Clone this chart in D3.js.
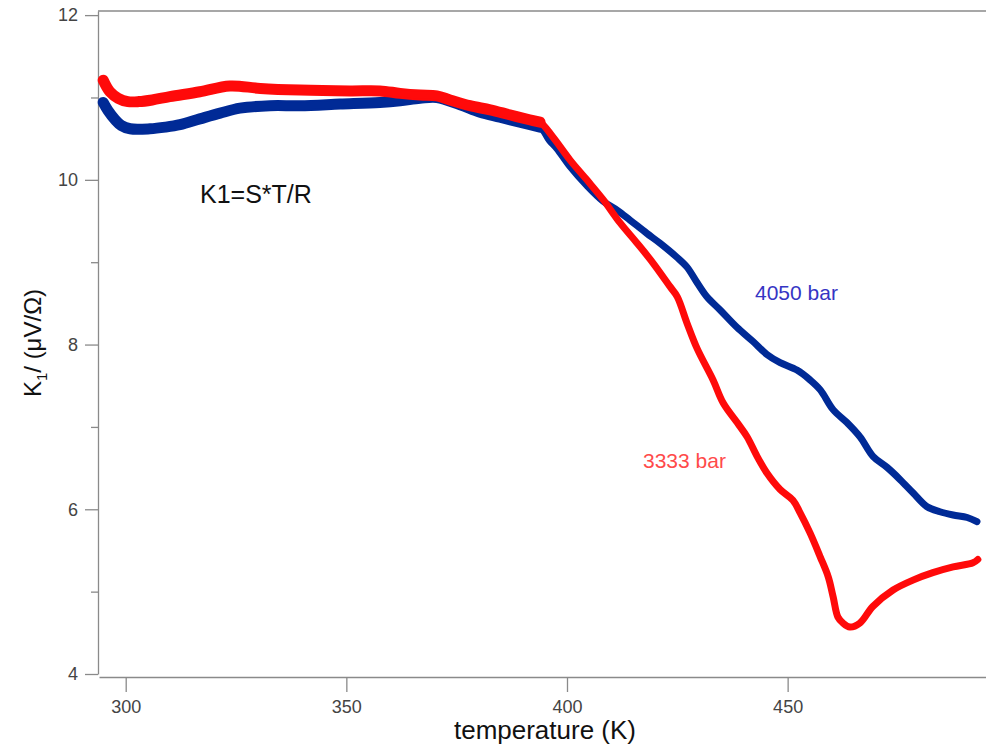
<!DOCTYPE html>
<html>
<head>
<meta charset="utf-8">
<script src="https://cdn.jsdelivr.net/npm/d3@7"></script>
<style>
  body { margin: 0; background: #fff; }
  text { font-family: "Liberation Sans", Arial, sans-serif; }
  .axis path, .axis line { stroke: #8a8a8a; stroke-width: 1.3; }
  .axis text { fill: #444; font-size: 18px; font-family: "Liberation Sans", Arial, sans-serif; }
</style>
</head>
<body>
<svg id="chart" width="986" height="745"></svg>
<script>
var width = 986, height = 745

// 4050 bar (blue)
var tempBlue = [294.9, 296, 297.6, 299, 301, 305.5, 309, 312.3, 316.8, 321.4, 325.9, 332.7, 339.5, 348.6, 357.6, 362.2, 366.7, 370.5,
    375.8, 380.3, 384.8, 389.3, 393.9, 396, 397.7, 400.7, 404.5, 408.2, 411.4, 414.3, 418.1, 421.1, 424.9, 427.2, 429.5, 431.7,
    434.7, 438.5, 442.1, 445.3, 448.3, 452.1, 455.1, 457.4, 460.3, 463.5, 466.4, 469.4, 472.5, 475.5, 478.4, 481.6, 484.5, 487.5, 490.7, 492.9]
var k1Blue = [10.94, 10.84, 10.73, 10.66, 10.62, 10.62, 10.64, 10.67, 10.74, 10.81, 10.87, 10.90, 10.90, 10.92, 10.94, 10.96, 10.99, 11.0,
    10.91, 10.82, 10.76, 10.70, 10.64, 10.48, 10.38, 10.16, 9.93, 9.74, 9.63, 9.51, 9.35, 9.23, 9.06, 8.94, 8.75, 8.58,
    8.42, 8.21, 8.04, 7.88, 7.78, 7.69, 7.57, 7.45, 7.21, 7.05, 6.88, 6.64, 6.51, 6.36, 6.20, 6.03, 5.97, 5.93, 5.90, 5.85]

// 3333 bar (red)
var tempRed = [294.9, 296.4, 298.3, 300.5, 303, 306, 310, 316.8, 323.6, 330.5, 339.5, 350.9, 357.6, 362.2, 366.7, 370.5, 373.5, 378,
    382.6, 387, 391.5, 393.9, 396.8, 400.7, 404.5, 408.2, 412.0, 415.9, 419.5, 423.4, 425, 427.2, 429.5, 433.1, 435.4, 438.6,
    440.8, 443.1, 445.3, 448.3, 451.2, 452.8, 455.1, 457.4, 459.2, 460.3, 461.4, 462.5, 464.1, 466.4, 469.3, 473.9, 478.4, 482.9,
    487.5, 492.0, 493.1]
var k1Red = [11.21, 11.07, 10.99, 10.95, 10.95, 10.97, 11.01, 11.07, 11.14, 11.11, 11.09, 11.08, 11.08, 11.05, 11.03, 11.02, 10.97, 10.90,
    10.85, 10.79, 10.73, 10.70, 10.52, 10.24, 10.00, 9.76, 9.48, 9.23, 8.99, 8.70, 8.58, 8.26, 7.95, 7.57, 7.29, 7.05,
    6.88, 6.64, 6.44, 6.24, 6.11, 5.96, 5.71, 5.42, 5.18, 4.94, 4.69, 4.62, 4.57, 4.62, 4.82, 5.02, 5.14, 5.23,
    5.30, 5.35, 5.39]

var xTicks = [300, 350, 400, 450]
var yTicks = [4, 6, 8, 10, 12]
var yMinor = [5, 7, 9, 11]

var svg = d3.select("#chart")

var xScale = d3.scaleLinear().domain([293.95, 494.95]).range([99, 986])
var yScale = d3.scaleLinear().domain([4, 12.05]).range([674, 11])

// frame line on top
svg.append("line")
    .attr("x1", 98).attr("x2", width).attr("y1", 11).attr("y2", 11)
    .attr("stroke", "#8a8a8a").attr("stroke-width", 1.3)

// x axis
svg.append("g")
    .attr("class", "axis")
    .attr("transform", "translate(0,677)")
    .call(d3.axisBottom(xScale).tickValues(xTicks).tickSize(15).tickSizeOuter(0).tickPadding(8))

// y axis, major then minor ticks
svg.append("g")
    .attr("class", "axis")
    .attr("transform", "translate(98,0)")
    .call(d3.axisLeft(yScale).tickValues(yTicks).tickSize(13).tickSizeOuter(0).tickPadding(7))
svg.append("g")
    .attr("class", "axis")
    .attr("transform", "translate(98,0)")
    .call(d3.axisLeft(yScale).tickValues(yMinor).tickSize(7).tickSizeOuter(0).tickFormat(""))
    .select(".domain").remove()

var line = d3.line()
    .x(d => xScale(d[0]))
    .y(d => yScale(d[1]))
    .curve(d3.curveCatmullRom)

function drawSeries(temps, vals, color)
{
    var pts = temps.map((t, i) => [t, vals[i]])
    // the noisy plateau reads as a wider band than the steep part
    svg.append("path")
        .datum(pts.filter(p => p[0] <= 394))
        .attr("d", line)
        .attr("fill", "none")
        .attr("stroke", color)
        .attr("stroke-width", 11)
        .attr("stroke-linecap", "round")
        .attr("stroke-linejoin", "round")
    svg.append("path")
        .datum(pts)
        .attr("d", line)
        .attr("fill", "none")
        .attr("stroke", color)
        .attr("stroke-width", 7)
        .attr("stroke-linecap", "round")
        .attr("stroke-linejoin", "round")
}

drawSeries(tempBlue, k1Blue, "#002a96")
drawSeries(tempRed, k1Red, "#ff0a0a")

// labels
svg.append("text")
    .attr("x", 200).attr("y", 203)
    .style("font-size", "25px").attr("fill", "#111")
    .text("K1=S*T/R")

svg.append("text")
    .attr("x", 755).attr("y", 300)
    .style("font-size", "21px").attr("fill", "#3535c4")
    .text("4050 bar")

svg.append("text")
    .attr("x", 643).attr("y", 468)
    .style("font-size", "21px").attr("fill", "#ff4a4a")
    .text("3333 bar")

svg.append("text")
    .attr("x", 545).attr("y", 739)
    .attr("text-anchor", "middle")
    .style("font-size", "26px").attr("fill", "#111")
    .text("temperature (K)")

var yl = svg.append("text")
    .attr("transform", "translate(41,343)rotate(-90)")
    .attr("text-anchor", "middle")
    .style("font-size", "24px").attr("fill", "#111")
yl.append("tspan").text("K")
yl.append("tspan").attr("dy", 6).style("font-size", "15px").text("1")
yl.append("tspan").attr("dy", -6).text("/ (μV/Ω)")
</script>
</body>
</html>
